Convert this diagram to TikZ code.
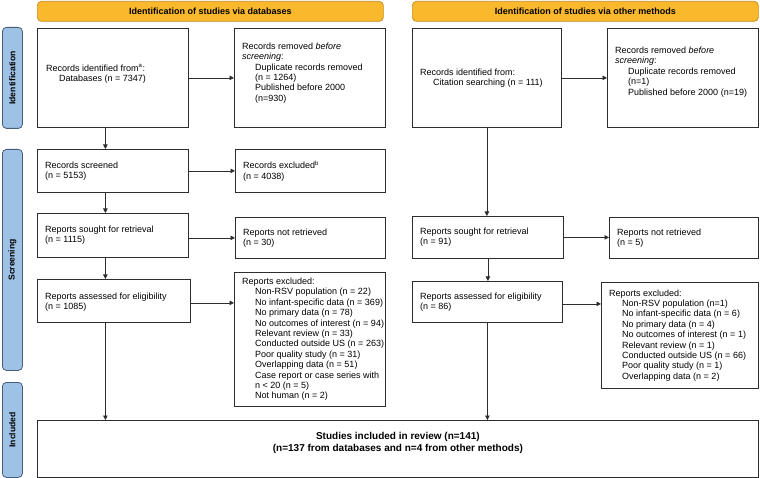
\documentclass[tikz,border=0pt]{standalone}
\usepackage{fontspec}
\setmainfont{Liberation Sans}
\usetikzlibrary{arrows.meta}
\definecolor{bannerfill}{RGB}{250,184,44}
\definecolor{bannerline}{RGB}{196,140,34}
\definecolor{sidefill}{RGB}{157,194,230}
\definecolor{sideline}{RGB}{72,92,122}
\definecolor{boxline}{RGB}{45,45,45}
\newcommand{\ind}{\hspace*{13pt}}
\begin{document}
\begin{tikzpicture}[x=1pt,y=-1pt,
  box/.style={draw=boxline, line width=0.8pt, fill=white, inner sep=0pt, anchor=north west},
  lbl/.style={anchor=west, inner sep=0pt, align=left, font=\fontsize{9}{10.4}\selectfont},
  banner/.style={draw=bannerline, line width=0.7pt, fill=bannerfill, rounded corners=4pt,
    anchor=north west, inner sep=0pt, font=\fontsize{9}{11}\selectfont\bfseries},
  side/.style={draw=sideline, line width=0.8pt, fill=sidefill, rounded corners=4pt,
    anchor=north west, inner sep=0pt},
  sidetext/.style={rotate=90, font=\fontsize{8.6}{10}\selectfont\bfseries},
  arr/.style={draw=boxline, line width=0.7pt, -{Triangle[length=4.5pt,width=4.5pt]}}
]
\useasboundingbox (0,0) rectangle (760,478);

% banners
\node[banner, minimum width=346pt, minimum height=20pt] (banL) at (37,1) {Identification of studies via databases};
\node[banner, minimum width=346pt, minimum height=20pt] (banR) at (412,1) {Identification of studies via other methods};

% side labels
\node[side, minimum width=20pt, minimum height=101pt] (sideI) at (2,27) {};
\node[sidetext] (sideIt) at (sideI.center) {Identification};
\node[side, minimum width=20pt, minimum height=221pt] (sideS) at (2,149) {};
\node[sidetext] (sideSt) at (sideS.center) {Screening};
\node[side, minimum width=20pt, minimum height=95pt] (sideN) at (2,382) {};
\node[sidetext] (sideNt) at (sideN.center) {Included};

% left column boxes
\node[box, minimum width=151pt, minimum height=99pt] (idL) at (37,28) {};
\node[box, minimum width=151pt, minimum height=99pt] (remL) at (234,28) {};
\node[box, minimum width=151pt, minimum height=43pt] (scrL) at (37,149) {};
\node[box, minimum width=150pt, minimum height=43pt] (excL) at (235,149) {};
\node[box, minimum width=151pt, minimum height=44pt] (souL) at (37,213) {};
\node[box, minimum width=150pt, minimum height=41pt] (nrL) at (235,217) {};
\node[box, minimum width=153pt, minimum height=43pt] (assL) at (37,279) {};
\node[box, minimum width=151pt, minimum height=134pt] (rxL) at (234,272) {};

% left column texts
\node[lbl] (idLt) at ([xshift=9pt,yshift=4pt]idL.west)
  {Records identified from\textsuperscript{a}:\\ \ind Databases (n = 7347)};
\node[lbl] (remLt) at ([xshift=8pt,yshift=5pt]remL.west)
  {Records removed \textit{before}\\ \textit{screening}:\\ \ind Duplicate records removed\\ \ind (n = 1264)\\ \ind Published before 2000\\ \ind (n=930)};
\node[lbl] (scrLt) at ([xshift=8pt]scrL.west) {Records screened\\ (n = 5153)};
\node[lbl] (excLt) at ([xshift=8pt]excL.west) {Records excluded\textsuperscript{b}\\ (n = 4038)};
\node[lbl] (souLt) at ([xshift=8pt]souL.west) {Reports sought for retrieval\\ (n = 1115)};
\node[lbl] (nrLt) at ([xshift=8pt]nrL.west) {Reports not retrieved\\ (n = 30)};
\node[lbl] (assLt) at ([xshift=8pt,yshift=-1.5pt]assL.west) {Reports assessed for eligibility\\ (n = 1085)};
\node[lbl] (rxLt) at ([xshift=8pt]rxL.west)
  {Reports excluded:\\ \ind Non-RSV population (n = 22)\\ \ind No infant-specific data (n = 369)\\ \ind No primary data (n = 78)\\ \ind No outcomes of interest (n = 94)\\ \ind Relevant review (n = 33)\\ \ind Conducted outside US (n = 263)\\ \ind Poor quality study (n = 31)\\ \ind Overlapping data (n = 51)\\ \ind Case report or case series with\\ \ind n {\char"003C} 20 (n = 5)\\ \ind Not human (n = 2)};

% right column boxes
\node[box, minimum width=149pt, minimum height=99pt] (idR) at (412,28) {};
\node[box, minimum width=151pt, minimum height=99pt] (remR) at (607,28) {};
\node[box, minimum width=151pt, minimum height=42pt] (souR) at (412,216) {};
\node[box, minimum width=149pt, minimum height=41pt] (nrR) at (609,217) {};
\node[box, minimum width=150pt, minimum height=41pt] (assR) at (412,281) {};
\node[box, minimum width=157pt, minimum height=106pt] (rxR) at (601,282) {};

% right column texts
\node[lbl] (idRt) at ([xshift=8pt]idR.west)
  {Records identified from:\\ \ind Citation searching (n = 111)};
\node[lbl] (remRt) at ([xshift=8pt,yshift=6pt]remR.west)
  {Records removed \textit{before}\\ \textit{screening}:\\ \ind Duplicate records removed\\ \ind (n=1)\\ \ind Published before 2000 (n=19)};
\node[lbl] (souRt) at ([xshift=8pt]souR.west) {Reports sought for retrieval\\ (n = 91)};
\node[lbl] (nrRt) at ([xshift=8pt]nrR.west) {Reports not retrieved\\ (n = 5)};
\node[lbl] (assRt) at ([xshift=8pt]assR.west) {Reports assessed for eligibility\\ (n = 86)};
\node[lbl] (rxRt) at ([xshift=8pt]rxR.west)
  {Reports excluded:\\ \ind Non-RSV population (n=1)\\ \ind No infant-specific data (n = 6)\\ \ind No primary data (n = 4)\\ \ind No outcomes of interest (n = 1)\\ \ind Relevant review (n = 1)\\ \ind Conducted outside US (n = 66)\\ \ind Poor quality study (n = 1)\\ \ind Overlapping data (n = 2)};

% included
\node[box, minimum width=721pt, minimum height=57pt] (inc) at (37,420) {};
\node[align=center, inner sep=0pt, font=\fontsize{10}{12}\selectfont\bfseries] (inct) at ([yshift=5.5pt]inc.center)
  {Studies included in review (n=141)\\ (n=137 from databases and n=4 from other methods)};

% horizontal arrows
\draw[arr] (idL.east) -- (idL.east -| remL.west);
\draw[arr] (scrL.east) -- (scrL.east -| excL.west);
\draw[arr] ([yshift=-2.5pt]souL.east) -- ([yshift=-2.5pt]souL.east -| nrL.west);
\draw[arr] ([yshift=-2pt]assL.east) -- ([yshift=-2pt]assL.east -| rxL.west);
\draw[arr] (idR.east) -- (idR.east -| remR.west);
\draw[arr] (souR.east) -- (souR.east -| nrR.west);
\draw[arr] ([yshift=-2pt]assR.east) -- ([yshift=-2pt]assR.east -| rxR.west);

% vertical arrows
\draw[arr] ([xshift=-7.5pt]idL.south) -- ([xshift=-7.5pt]idL.south |- scrL.north);
\draw[arr] ([xshift=-7.5pt]scrL.south) -- ([xshift=-7.5pt]scrL.south |- souL.north);
\draw[arr] ([xshift=-7.5pt]souL.south) -- ([xshift=-7.5pt]souL.south |- assL.north);
\draw[arr] ([xshift=-8.5pt]assL.south) -- ([xshift=-8.5pt]assL.south |- inc.north);
\draw[arr] (idR.south) -- (idR.south |- souR.north);
\draw[arr] (souR.south) -- (souR.south |- assR.north);
\draw[arr] (assR.south) -- (assR.south |- inc.north);
\end{tikzpicture}
\end{document}
